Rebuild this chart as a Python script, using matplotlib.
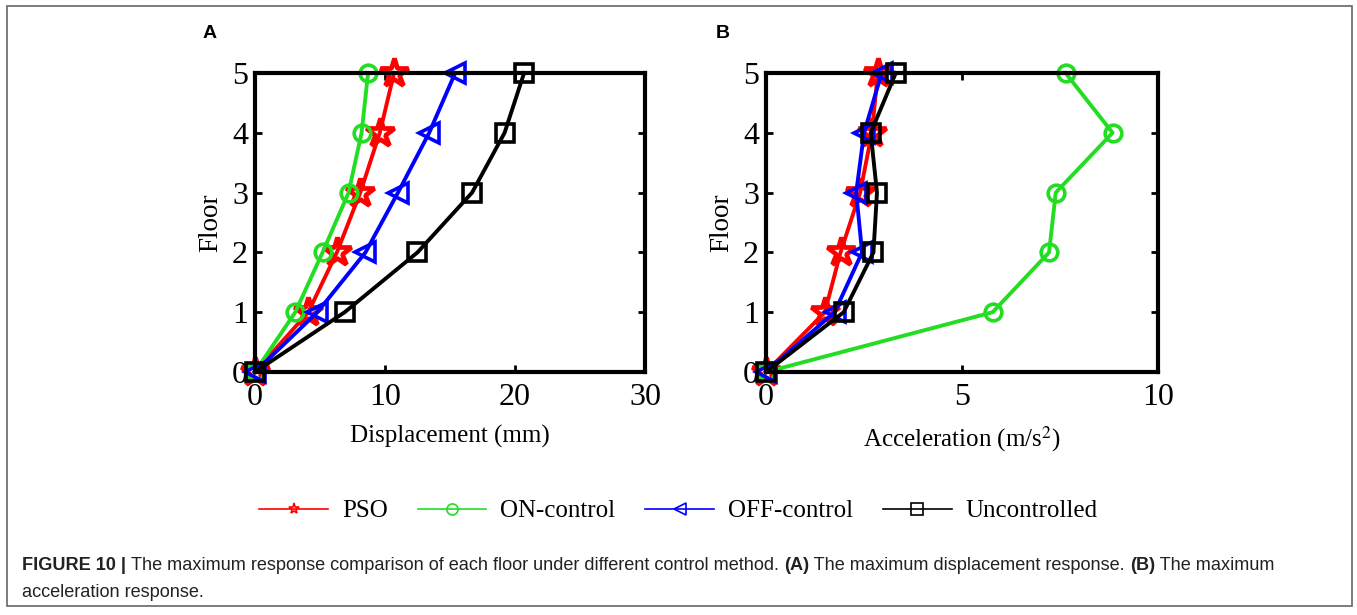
import numpy as np
import matplotlib.pyplot as plt
from matplotlib.lines import Line2D
from matplotlib.patches import Rectangle

# floor-by-floor maximum responses
floors = [0, 1, 2, 3, 4, 5]

disp_pso = [0, 4.1, 6.3, 8.1, 9.6, 10.7]
disp_on = [0, 3.1, 5.2, 7.2, 8.2, 8.7]
disp_off = [0, 4.8, 8.5, 11.0, 13.4, 15.4]
disp_unc = [0, 6.9, 12.5, 16.7, 19.2, 20.7]

acc_pso = [0, 1.5, 1.9, 2.4, 2.7, 2.85]
acc_on = [0, 5.78, 7.22, 7.39, 8.84, 7.64]
acc_off = [0, 1.75, 2.45, 2.3, 2.5, 2.95]
acc_unc = [0, 1.98, 2.74, 2.83, 2.67, 3.31]

labels = ['PSO', 'ON-control', 'OFF-control', 'Uncontrolled']
colors = ['#ff0000', '#22dd22', '#0000ff', '#000000']
markers = ['*', 'o', '<', 's']
msizes = [21, 12, 15, 13]
mews = [3.4, 2.6, 2.6, 2.6]

plt.rcParams['font.family'] = 'Liberation Serif'
plt.rcParams['mathtext.fontset'] = 'stix'

fig = plt.figure(figsize=(13.57, 6.15), dpi=100)
axA = fig.add_axes([0.1879, 0.3951, 0.2874, 0.4862])
axB = fig.add_axes([0.5645, 0.3951, 0.2889, 0.4862])


def draw_panel(ax, series, xmax, xticks, xlabel):
    for x, c, m, s, w in zip(series, colors, markers, msizes, mews):
        ax.plot(x, floors, color=c, lw=2.8, marker=m, ms=s, mfc='none',
                mec=c, mew=w, clip_on=False)
    ax.set_xlim(0, xmax)
    ax.set_ylim(0, 5)
    ax.set_xticks(xticks)
    ax.set_yticks(floors)
    ax.tick_params(direction='in', top=True, right=True, length=5, width=2,
                   labelsize=23)
    ax.tick_params(axis='x', pad=8)
    ax.tick_params(axis='y', pad=5)
    for sp in ax.spines.values():
        sp.set_linewidth(3)
    ax.set_xlabel(xlabel, fontsize=18, labelpad=9)
    ax.set_ylabel('Floor', fontsize=19.5, labelpad=6)


draw_panel(axA, [disp_pso, disp_on, disp_off, disp_unc], 30, [0, 10, 20, 30],
           'Displacement (mm)')
draw_panel(axB, [acc_pso, acc_on, acc_off, acc_unc], 10, [0, 5, 10],
           'Acceleration (m/s$^2$)')

fig.text(210 / 1357, 1 - 33 / 615, 'A', fontsize=14, fontweight='bold',
         family='Liberation Sans', ha='center', va='center')
fig.text(723 / 1357, 1 - 33 / 615, 'B', fontsize=14, fontweight='bold',
         family='Liberation Sans', ha='center', va='center')

# legend below both panels
handles = [Line2D([], [], color=c, lw=1.2, marker=m, ms=8, mfc='none', mec=c, mew=1.2)
           for c, m in zip(colors, markers)]
fig.legend(handles, labels, loc='center', bbox_to_anchor=(0.500, 0.169), ncol=4,
           frameon=False, fontsize=18, handlelength=2.75, handletextpad=0.55,
           columnspacing=1.2)

# caption with bold fragments
fig.canvas.draw()
renderer = fig.canvas.get_renderer()


def caption_line(parts, x0, y0):
    x = x0
    for txt, bold in parts:
        t = fig.text(x, y0, txt, fontsize=13.05, family='Liberation Sans',
                     fontweight='bold' if bold else 'normal', color='#222222',
                     va='baseline', ha='left')
        w = t.get_window_extent(renderer).width
        x += w / fig.bbox.width


caption_line([('FIGURE 10 | ', True),
              ('The maximum response comparison of each floor under different control method. ', False),
              ('(A)', True), (' The maximum displacement response. ', False),
              ('(B)', True), (' The maximum', False)],
             22 / 1357, 1 - 570 / 615)
caption_line([('acceleration response.', False)], 22 / 1357, 1 - 597 / 615)

fig.add_artist(Rectangle((7 / 1357, 1 - 606 / 615), 1345 / 1357, 600 / 615,
                         transform=fig.transFigure, fill=False, ec='#666666', lw=1.2))

fig.savefig('out.png', dpi=100)
